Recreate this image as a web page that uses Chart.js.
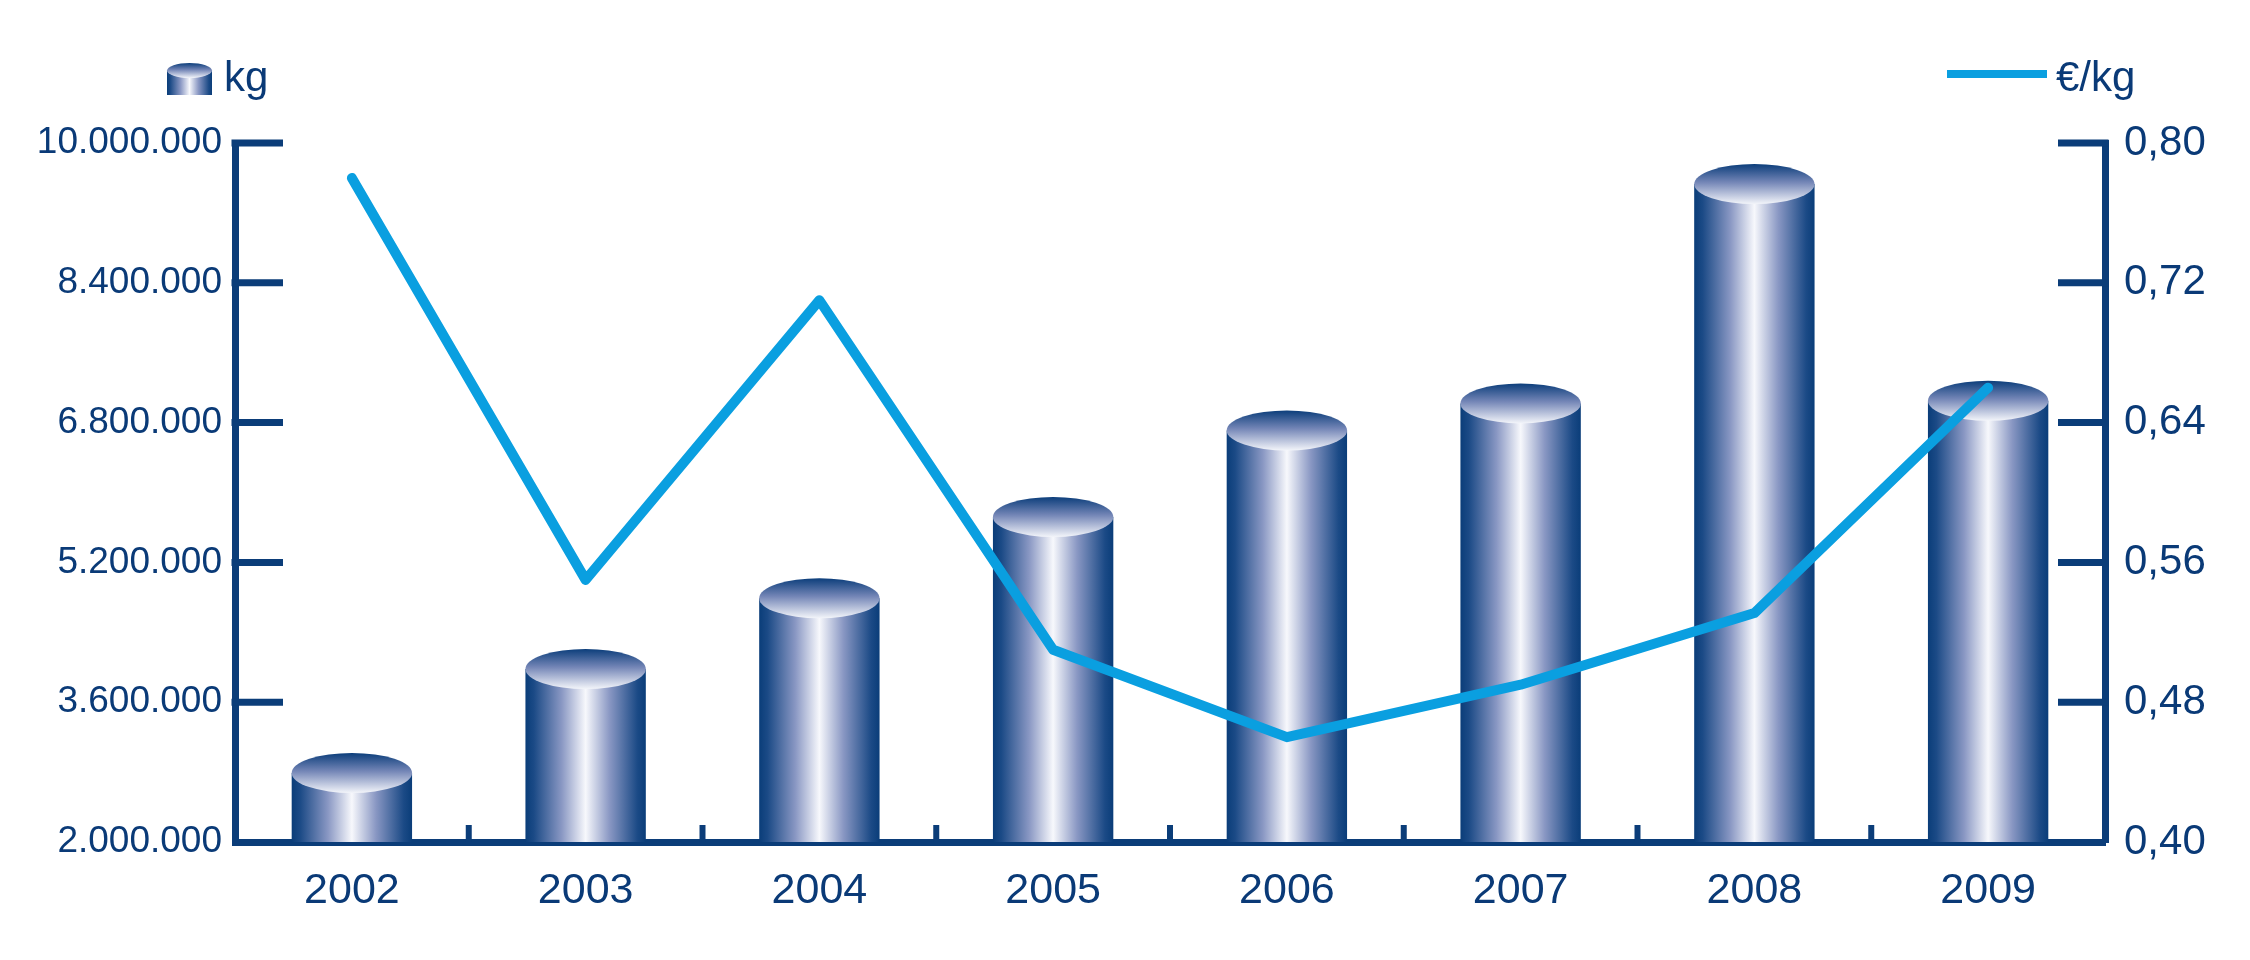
<!DOCTYPE html>
<html>
<head>
<meta charset="utf-8">
<script src="https://cdn.jsdelivr.net/npm/chart.js@4.4.1/dist/chart.umd.min.js"></script>
<style>
  html, body { margin: 0; padding: 0; background: #ffffff; }
  #wrap { width: 2250px; height: 960px; position: relative; }
</style>
</head>
<body>
<div id="wrap"><canvas id="c" width="2250" height="960"></canvas></div>
<script>
// ---- data ----
const categories = ['2002', '2003', '2004', '2005', '2006', '2007', '2008', '2009'];
const kgValues = [2790000, 3980000, 4790000, 5720000, 6710000, 7020000, 9530000, 7050000];
const priceValues = [0.780, 0.550, 0.710, 0.510, 0.460, 0.490, 0.531, 0.660];
const kgTicks = [2000000, 3600000, 5200000, 6800000, 8400000, 10000000];
const priceTicks = [0.40, 0.48, 0.56, 0.64, 0.72, 0.80];
const seriesLabels = ['kg', '€/kg'];

// ---- style ----
const NAVY = '#0b3d79';
const TEXT = '#0a3a77';
const CYAN = '#0a9fe0';
const FONT = '"Liberation Sans", Arial, sans-serif';
const BAR_PCT = 0.515;
const CAP_RY = 20;

function fmtKg(v) {
  const s = Math.round(v).toString();
  return s.replace(/\B(?=(\d{3})+(?!\d))/g, '.');
}
function fmtPrice(v) { return v.toFixed(2).replace('.', ','); }

function sideGradient(ctx, x0, x1) {
  const g = ctx.createLinearGradient(x0, 0, x1, 0);
  g.addColorStop(0, '#0a3d79');
  g.addColorStop(0.07, '#1b4a86');
  g.addColorStop(0.30, '#8997c3');
  g.addColorStop(0.50, '#f7f8fc');
  g.addColorStop(0.70, '#8997c3');
  g.addColorStop(0.93, '#1b4a86');
  g.addColorStop(1, '#0a3d79');
  return g;
}
function capGradient(ctx, y0, y1) {
  const g = ctx.createLinearGradient(0, y0, 0, y1);
  g.addColorStop(0, '#0c3e7b');
  g.addColorStop(0.45, '#7385b6');
  g.addColorStop(1, '#f3f5fa');
  return g;
}

const cylinderPlugin = {
  id: 'cylinder',
  afterDatasetDraw(chart, args) {
    if (args.index !== 0) return;
    const ctx = chart.ctx;
    ctx.save();
    args.meta.data.forEach(bar => {
      const p = bar.getProps(['x', 'y', 'width'], true);
      const rx = p.width / 2;
      ctx.fillStyle = capGradient(ctx, p.y - CAP_RY, p.y + CAP_RY);
      ctx.beginPath();
      ctx.ellipse(p.x, p.y, rx, CAP_RY, 0, 0, Math.PI * 2);
      ctx.fill();
    });
    ctx.restore();
  },
  afterDraw(chart) {
    const ctx = chart.ctx;
    const area = chart.chartArea;
    const yL = chart.scales.y, yR = chart.scales.y1, xs = chart.scales.x;
    ctx.save();
    ctx.strokeStyle = NAVY;
    ctx.lineCap = 'butt';
    ctx.lineWidth = 7;
    yL.ticks.forEach(t => {
      const py = yL.getPixelForValue(t.value);
      if (Math.abs(py - area.bottom) < 2) return;
      ctx.beginPath(); ctx.moveTo(area.left - 3.5, py); ctx.lineTo(area.left + 48, py); ctx.stroke();
    });
    yR.ticks.forEach(t => {
      const py = yR.getPixelForValue(t.value);
      if (Math.abs(py - area.bottom) < 2) return;
      ctx.beginPath(); ctx.moveTo(area.right + 3.5, py); ctx.lineTo(area.right - 47, py); ctx.stroke();
    });
    ctx.lineWidth = 6;
    for (let i = 0; i < categories.length - 1; i++) {
      const px = (xs.getPixelForValue(i) + xs.getPixelForValue(i + 1)) / 2;
      ctx.beginPath(); ctx.moveTo(px, area.bottom); ctx.lineTo(px, area.bottom - 17); ctx.stroke();
    }
    const ix = 167, iw = 45, icy = 70.5, iry = 7.5, ib = 95;
    ctx.fillStyle = sideGradient(ctx, ix, ix + iw);
    ctx.fillRect(ix, icy, iw, ib - icy);
    ctx.fillStyle = capGradient(ctx, icy - iry, icy + iry);
    ctx.beginPath(); ctx.ellipse(ix + iw / 2, icy, iw / 2, iry, 0, 0, Math.PI * 2); ctx.fill();
    ctx.fillStyle = TEXT;
    ctx.font = '42px ' + FONT;
    ctx.textBaseline = 'alphabetic';
    ctx.textAlign = 'left';
    ctx.fillText(chart.data.datasets[0].label, 224, 91);
    ctx.strokeStyle = CYAN;
    ctx.lineWidth = 8;
    ctx.beginPath(); ctx.moveTo(1947, 74); ctx.lineTo(2047, 74); ctx.stroke();
    ctx.fillText(chart.data.datasets[1].label, 2056, 91);
    ctx.restore();
  }
};

new Chart(document.getElementById('c'), {
  data: {
    labels: categories,
    datasets: [
      {
        type: 'bar',
        label: seriesLabels[0],
        data: kgValues,
        yAxisID: 'y',
        order: 2,
        categoryPercentage: 1,
        barPercentage: BAR_PCT,
        borderWidth: 0,
        backgroundColor: (c) => {
          const ch = c.chart;
          const xs = ch.scales && ch.scales.x;
          if (!xs || !ch.chartArea) return NAVY;
          const cx = xs.getPixelForValue(c.dataIndex);
          const half = (xs.width / categories.length) * BAR_PCT / 2;
          return sideGradient(ch.ctx, cx - half, cx + half);
        }
      },
      {
        type: 'line',
        label: seriesLabels[1],
        data: priceValues,
        yAxisID: 'y1',
        order: 1,
        borderColor: CYAN,
        borderWidth: 10,
        borderCapStyle: 'round',
        borderJoinStyle: 'round',
        pointRadius: 0,
        tension: 0,
        fill: false
      }
    ]
  },
  options: {
    responsive: false,
    devicePixelRatio: 1,
    animation: false,
    layout: { padding: { top: 143, left: 0, right: 0, bottom: 0 } },
    plugins: { legend: { display: false }, tooltip: { enabled: false } },
    scales: {
      x: {
        type: 'category',
        offset: true,
        z: 1,
        grid: { display: true, drawOnChartArea: false, drawTicks: false, color: 'rgba(0,0,0,0)' },
        border: { display: true, color: NAVY, width: 7 },
        ticks: { color: TEXT, font: { family: FONT, size: 43 }, padding: 23 },
        afterFit: (s) => { s.height = 118; }
      },
      y: {
        type: 'linear',
        position: 'left',
        min: kgTicks[0],
        max: kgTicks[kgTicks.length - 1],
        z: 1,
        afterBuildTicks: (s) => { s.ticks = kgTicks.map(v => ({ value: v })); },
        grid: { display: true, drawOnChartArea: false, drawTicks: false, color: 'rgba(0,0,0,0)' },
        border: { display: true, color: NAVY, width: 7 },
        ticks: { color: TEXT, font: { family: FONT, size: 37 }, padding: 13, callback: (v) => fmtKg(v) },
        afterFit: (s) => { s.width = 235; }
      },
      y1: {
        type: 'linear',
        position: 'right',
        min: priceTicks[0],
        max: priceTicks[priceTicks.length - 1],
        z: 1,
        afterBuildTicks: (s) => { s.ticks = priceTicks.map(v => ({ value: v })); },
        grid: { display: true, drawOnChartArea: false, drawTicks: false, color: 'rgba(0,0,0,0)' },
        border: { display: true, color: NAVY, width: 7 },
        ticks: { color: TEXT, font: { family: FONT, size: 42 }, padding: 19, callback: (v) => fmtPrice(v) },
        afterFit: (s) => { s.width = 145; }
      }
    }
  },
  plugins: [cylinderPlugin]
});
</script>
</body>
</html>
